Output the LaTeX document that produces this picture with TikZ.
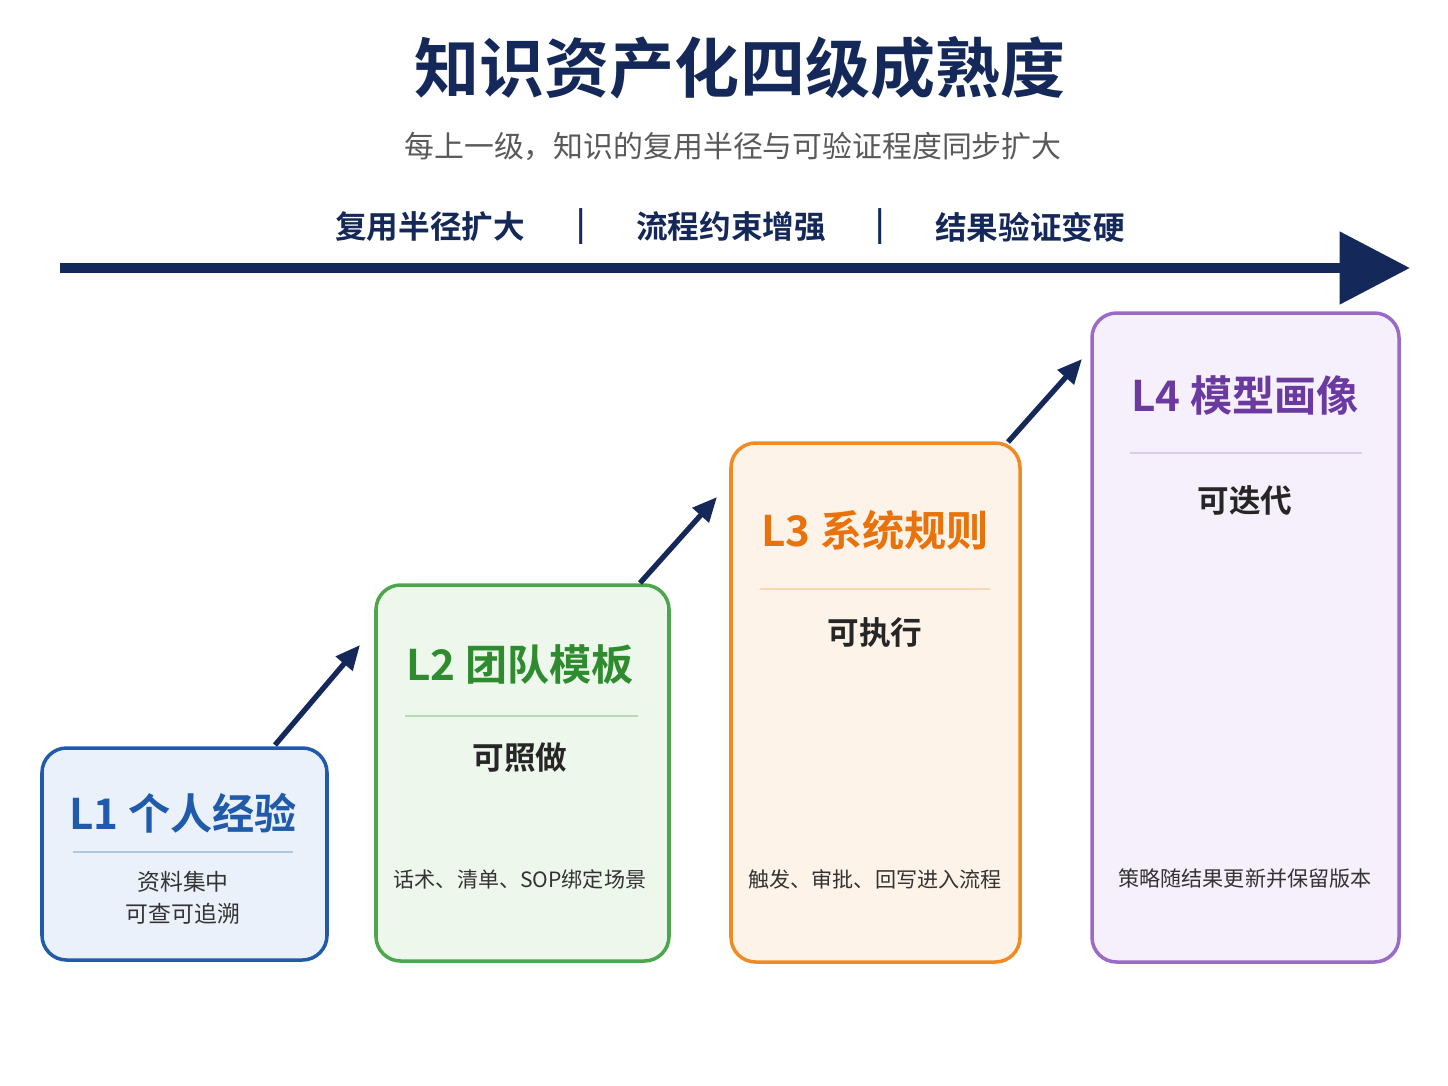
\documentclass[tikz,border=0pt]{standalone}
\usepackage{fontspec}
\setmainfont{Noto Sans CJK SC}[BoldFont={* Bold}]
\usetikzlibrary{arrows.meta}
\definecolor{navy}{HTML}{14285A}
\definecolor{bB}{HTML}{1F5BAA}\definecolor{bF}{HTML}{EAF1FB}
\definecolor{gB}{HTML}{4CA64C}\definecolor{gF}{HTML}{EEF7EC}\definecolor{gT}{HTML}{2E8B2E}
\definecolor{oB}{HTML}{F08A24}\definecolor{oF}{HTML}{FEF3E8}\definecolor{oT}{HTML}{E8720C}
\definecolor{pB}{HTML}{9A6AC8}\definecolor{pF}{HTML}{F5F0FB}\definecolor{pT}{HTML}{6A3AA0}
\begin{document}
\begin{tikzpicture}[x=0.02cm,y=-0.02cm,
 box/.style={rounded corners=14pt,line width=2pt},
 ttl/.style={font=\fontsize{24}{28}\selectfont\bfseries},
 sub/.style={font=\fontsize{18}{22}\selectfont\bfseries,text=black!85},
 sml/.style={font=\fontsize{12}{15}\selectfont,text=black!80,align=center},
 stepar/.style={navy,line width=3pt,-{Triangle[length=14pt,width=12pt]}},
 lab/.style={font=\fontsize{18}{22}\selectfont\bfseries,text=navy}]
\fill[white] (0,0) rectangle (1448,1086);
\node[font=\fontsize{37}{42}\selectfont\bfseries,text=navy] (t) at (740,68) {知识资产化四级成熟度};
\node[font=\fontsize{17}{20}\selectfont,text=black!65] (s) at (733,146) {每上一级，知识的复用半径与可验证程度同步扩大};
\node[lab] (a1) at (430,227) {复用半径扩大};
\node[lab] (p1) at (581,227) {|};
\node[lab] (a2) at (731,227) {流程约束增强};
\node[lab] (p2) at (880,227) {|};
\node[lab] (a3) at (1030,227) {结果验证变硬};
\coordinate (m0) at (60,268); \coordinate (m1) at (1410,268);
\draw[navy,line width=6pt,-{Triangle[length=40pt,width=40pt]}] (m0) -- (m1);
% boxes
\draw[box,draw=bB,fill=bF] (42,748) rectangle (327,960);
\draw[box,draw=gB,fill=gF] (376,585) rectangle (669,961);
\draw[box,draw=oB,fill=oF] (731,443) rectangle (1020,962);
\draw[box,draw=pB,fill=pF] (1092,313) rectangle (1399,962);
% L1
\node[ttl,text=bB] (l1) at (183,813) {L1 个人经验};
\draw[bB!35,line width=1.5pt] (73,852) -- (293,852);
\node[sml,font=\fontsize{13}{18}\selectfont] (l1s) at (183,898) {资料集中\\可查可追溯};
% L2
\node[ttl,text=gT] (l2) at (520,665) {L2 团队模板};
\draw[gB!40,line width=1.5pt] (405,716) -- (638,716);
\node[sub] (l2a) at (520,758) {可照做};
\node[sml] (l2b) at (520,879) {话术、清单、SOP绑定场景};
% L3
\node[ttl,text=oT] (l3) at (875,530) {L3 系统规则};
\draw[oB!35,line width=1.5pt] (760,589) -- (990,589);
\node[sub] (l3a) at (875,633) {可执行};
\node[sml] (l3b) at (875,879) {触发、审批、回写进入流程};
% L4
\node[ttl,text=pT] (l4) at (1245,395) {L4 模型画像};
\draw[pB!35,line width=1.5pt] (1130,453) -- (1362,453);
\node[sub] (l4a) at (1245,500) {可迭代};
\node[sml] (l4b) at (1245,879) {策略随结果更新并保留版本};
% step arrows
\coordinate (s1a) at (275,745); \coordinate (s1b) at (360,645);
\coordinate (s2a) at (640,583); \coordinate (s2b) at (717,497);
\coordinate (s3a) at (1008,442); \coordinate (s3b) at (1082,359);
\draw[stepar] (s1a) -- (s1b);
\draw[stepar] (s2a) -- (s2b);
\draw[stepar] (s3a) -- (s3b);
\end{tikzpicture}
\end{document}
